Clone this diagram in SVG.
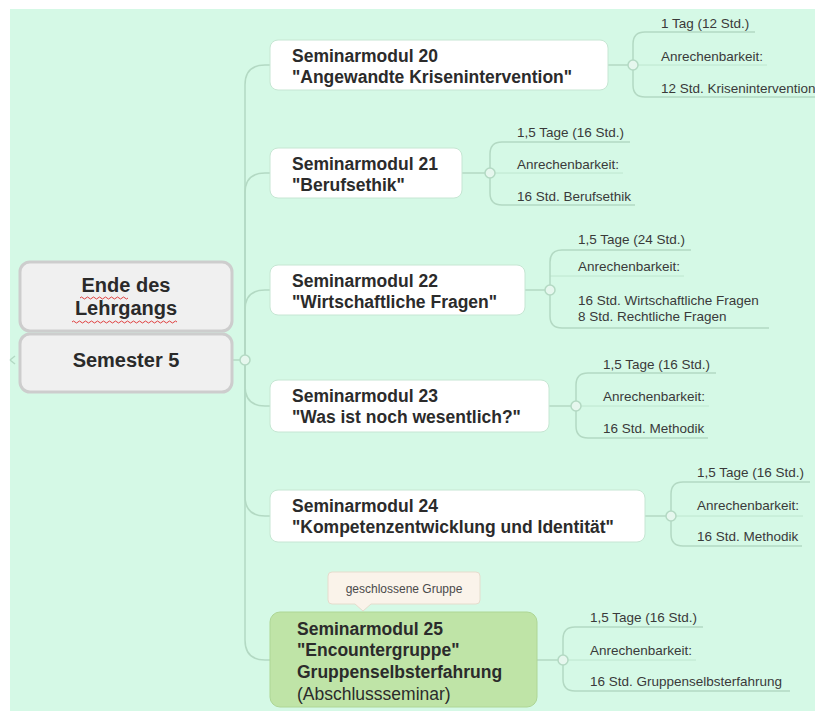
<svg xmlns="http://www.w3.org/2000/svg" width="815" height="711" viewBox="0 0 815 711">
<style>
.bg{fill:#d5f9e6}
.root{fill:#f0f0f0;stroke:#cdcdcd;stroke-width:3}
.rt{font-family:"Liberation Sans",Arial,sans-serif;font-weight:bold;font-size:20px;fill:#2a2a2a;text-anchor:middle}
.mod{fill:#ffffff;stroke:#c6e6d3;stroke-width:1}
.mt{font-family:"Liberation Sans",Arial,sans-serif;font-weight:bold;font-size:17.5px;fill:#2b2b2b}
.mtn{font-family:"Liberation Sans",Arial,sans-serif;font-size:17.5px;fill:#2b2b2b}
.dt{font-family:"Liberation Sans",Arial,sans-serif;font-size:13.5px;fill:#3a3a3a}
.ct{font-family:"Liberation Sans",Arial,sans-serif;font-size:12px;fill:#4a4a4a;text-anchor:middle}
.ln{fill:none;stroke:#b3d9c3;stroke-width:1.5}
.ul{fill:none;stroke:#b3d9c3;stroke-width:1;opacity:0.6}
.dot{fill:#e6f7ee;stroke:#b3d9c3;stroke-width:1.5}
.sq{fill:none;stroke:#e04040;stroke-width:1}
</style>
<rect x="0" y="0" width="815" height="711" fill="#ffffff"/>
<rect class="bg" x="10" y="9" width="805" height="702"/>

<g id="connectors">
  <path class="ln" d="M232,360 H240"/>
  <path class="ln" d="M245,360 V85 Q245,65 265,65 H270"/>
  <path class="ln" d="M245,360 V193 Q245,173 265,173 H270"/>
  <path class="ln" d="M245,360 V310 Q245,290 265,290 H270"/>
  <path class="ln" d="M245,360 V386 Q245,406 265,406 H270"/>
  <path class="ln" d="M245,360 V496 Q245,516 265,516 H270"/>
  <path class="ln" d="M245,360 V640 Q245,660 265,660 H270"/>
  <path class="ln" d="M10,360 L15,356 M10,360 L15,364"/>
  <!-- module 20 details -->
  <path class="ln" d="M608,65 H628"/>
  <path class="ln" d="M633,60 V44 Q633,32 645,32 H755"/>
  <path class="ln" d="M633,70 V85 Q633,97 645,97 H815"/>
  <path class="ul" d="M638,65 H767"/>
  <!-- module 21 details -->
  <path class="ln" d="M462,173 H485"/>
  <path class="ln" d="M490,168 V154 Q490,142 502,142 H630"/>
  <path class="ln" d="M490,178 V193 Q490,205 502,205 H635"/>
  <path class="ul" d="M495,173 H623"/>
  <!-- module 22 details -->
  <path class="ln" d="M525,290 H545"/>
  <path class="ln" d="M550,285 V262 Q550,250 562,250 H691"/>
  <path class="ln" d="M550,295 V316 Q550,328 562,328 H769"/>
  <path class="ul" d="M550,276 H684"/>
  <!-- module 23 details -->
  <path class="ln" d="M549,406 H571"/>
  <path class="ln" d="M576,401 V385 Q576,373 588,373 H716"/>
  <path class="ln" d="M576,411 V426 Q576,438 588,438 H708"/>
  <path class="ul" d="M581,406 H709"/>
  <!-- module 24 details -->
  <path class="ln" d="M645,516 H666"/>
  <path class="ln" d="M671,511 V494 Q671,482 683,482 H810"/>
  <path class="ln" d="M671,521 V534 Q671,546 683,546 H802"/>
  <path class="ul" d="M676,516 H803"/>
  <!-- module 25 details -->
  <path class="ln" d="M537,660 H558"/>
  <path class="ln" d="M563,655 V639 Q563,627 575,627 H703"/>
  <path class="ln" d="M563,665 V679 Q563,691 575,691 H790"/>
  <path class="ul" d="M568,660 H696"/>
  <circle class="dot" cx="245" cy="360" r="5"/>
  <circle class="dot" cx="633" cy="65" r="5"/>
  <circle class="dot" cx="490" cy="173" r="5"/>
  <circle class="dot" cx="550" cy="290" r="5"/>
  <circle class="dot" cx="576" cy="406" r="5"/>
  <circle class="dot" cx="671" cy="516" r="5"/>
  <circle class="dot" cx="563" cy="660" r="5"/>
</g>

<g id="root">
  <rect class="root" x="20" y="262" width="212" height="69" rx="10"/>
  <rect class="root" x="20" y="334" width="212" height="58" rx="10"/>
  <text class="rt" x="126" y="292">Ende des</text>
  <text class="rt" x="126" y="315">Lehrgangs</text>
  <path class="sq" d="M80,298 q1.5,-2 3,0 t3,0 t3,0 t3,0 t3,0 t3,0 t3,0 t3,0 t3,0 t3,0 t3,0 t3,0 t3,0 t3,0 t3,0 t3,0"/>
  <path class="sq" d="M72,322 q1.5,-2 3,0 t3,0 t3,0 t3,0 t3,0 t3,0 t3,0 t3,0 t3,0 t3,0 t3,0 t3,0 t3,0 t3,0 t3,0 t3,0 t3,0 t3,0 t3,0 t3,0 t3,0 t3,0 t3,0 t3,0 t3,0 t3,0 t3,0 t3,0 t3,0 t3,0 t3,0 t3,0 t3,0 t3,0 t3,0"/>
  <text class="rt" x="126" y="367">Semester 5</text>
</g>

<g id="m20">
  <rect class="mod" x="270" y="40" width="338" height="50" rx="8"/>
  <text class="mt" x="292" y="62">Seminarmodul 20</text>
  <text class="mt" x="292" y="83">"Angewandte Krisenintervention"</text>
  <text class="dt" x="661" y="28">1 Tag (12 Std.)</text>
  <text class="dt" x="661" y="61">Anrechenbarkeit:</text>
  <text class="dt" x="661" y="93">12 Std. Krisenintervention</text>
</g>

<g id="m21">
  <rect class="mod" x="270" y="148" width="192" height="50" rx="8"/>
  <text class="mt" x="292" y="170">Seminarmodul 21</text>
  <text class="mt" x="292" y="191">"Berufsethik"</text>
  <text class="dt" x="517" y="137">1,5 Tage (16 Std.)</text>
  <text class="dt" x="517" y="169">Anrechenbarkeit:</text>
  <text class="dt" x="517" y="201">16 Std. Berufsethik</text>
</g>

<g id="m22">
  <rect class="mod" x="270" y="265" width="255" height="50" rx="8"/>
  <text class="mt" x="292" y="287">Seminarmodul 22</text>
  <text class="mt" x="292" y="308">"Wirtschaftliche Fragen"</text>
  <text class="dt" x="578" y="244">1,5 Tage (24 Std.)</text>
  <text class="dt" x="578" y="271">Anrechenbarkeit:</text>
  <text class="dt" x="578" y="305">16 Std. Wirtschaftliche Fragen</text>
  <text class="dt" x="578" y="321">8 Std. Rechtliche Fragen</text>
</g>

<g id="m23">
  <rect class="mod" x="270" y="380" width="279" height="52" rx="8"/>
  <text class="mt" x="292" y="402">Seminarmodul 23</text>
  <text class="mt" x="292" y="423">"Was ist noch wesentlich?"</text>
  <text class="dt" x="603" y="369">1,5 Tage (16 Std.)</text>
  <text class="dt" x="603" y="401">Anrechenbarkeit:</text>
  <text class="dt" x="603" y="433">16 Std. Methodik</text>
</g>

<g id="m24">
  <rect class="mod" x="270" y="490" width="375" height="52" rx="8"/>
  <text class="mt" x="292" y="512">Seminarmodul 24</text>
  <text class="mt" x="292" y="533">"Kompetenzentwicklung und Identität"</text>
  <text class="dt" x="697" y="477">1,5 Tage (16 Std.)</text>
  <text class="dt" x="697" y="510">Anrechenbarkeit:</text>
  <text class="dt" x="697" y="541">16 Std. Methodik</text>
</g>

<g id="callout">
  <path d="M332,572 H476 Q480,572 480,576 V600 Q480,604 476,604 H371 L363,611 L355,604 H332 Q328,604 328,600 V576 Q328,572 332,572 Z" fill="#faf3ea" stroke="#e5dccd" stroke-width="1"/>
  <text class="ct" x="404" y="593">geschlossene Gruppe</text>
</g>

<g id="m25">
  <rect x="270" y="612" width="267" height="95" rx="10" fill="#bfe4a7" stroke="#aed695" stroke-width="1"/>
  <text class="mt" x="297" y="635">Seminarmodul 25</text>
  <text class="mt" x="297" y="656">"Encountergruppe"</text>
  <text class="mt" x="297" y="678">Gruppenselbsterfahrung</text>
  <text class="mtn" x="297" y="700">(Abschlussseminar)</text>
  <text class="dt" x="590" y="622">1,5 Tage (16 Std.)</text>
  <text class="dt" x="590" y="655">Anrechenbarkeit:</text>
  <text class="dt" x="590" y="686">16 Std. Gruppenselbsterfahrung</text>
</g>
</svg>
